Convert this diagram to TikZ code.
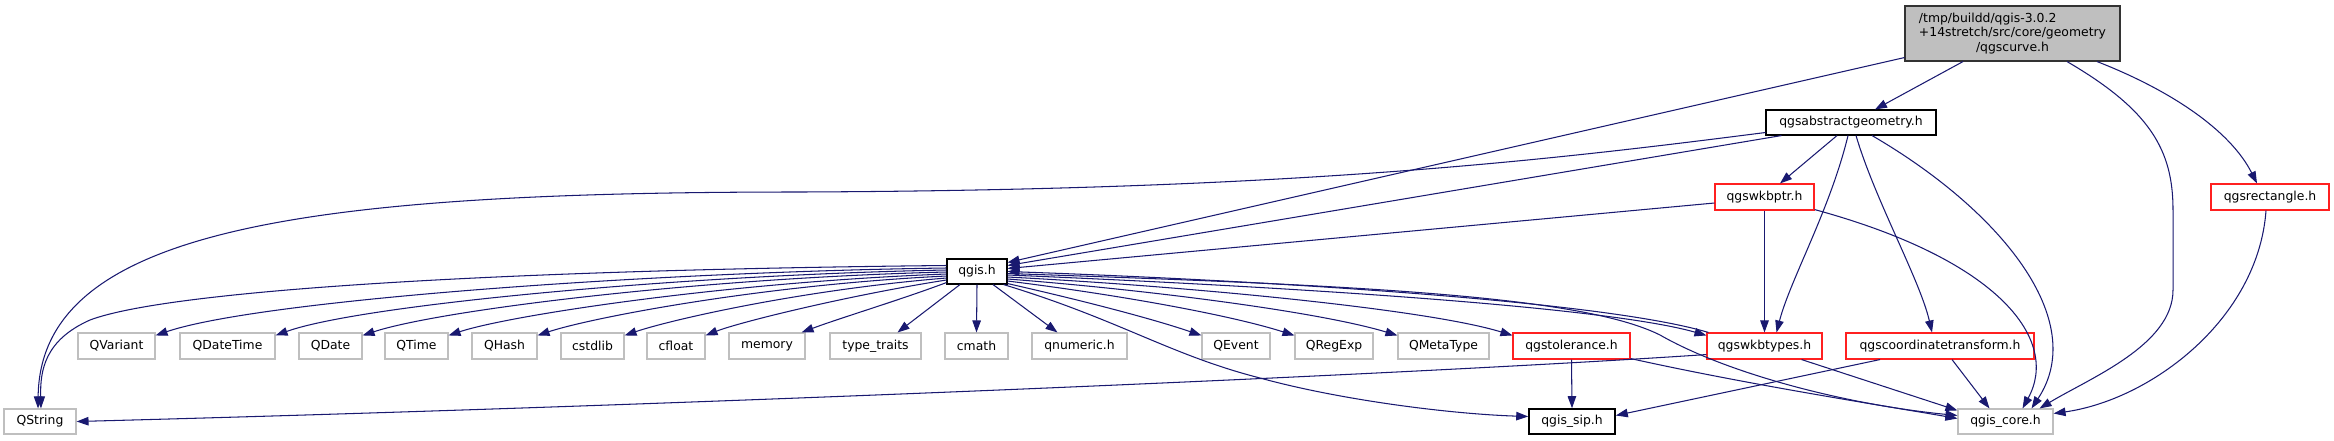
\documentclass[tikz,border=0pt]{standalone}
\usepackage{fontspec}
\setmainfont{DejaVu Sans}
\usetikzlibrary{arrows.meta,calc}
\definecolor{edgec}{HTML}{191970}
\definecolor{nodegray}{HTML}{BFBFBF}
\definecolor{trred}{HTML}{FF2020}
\newlength\lineLen
\tikzset{
 box/.style={rectangle, draw, line width=1.1pt, inner sep=0pt, minimum height=26pt, font=\fontsize{12.4}{14.5}\selectfont, text=black},
 docbox/.style={box, draw=black},
 extbox/.style={box, draw=nodegray},
 trbox/.style={box, draw=trred},
 rootbox/.style={box, draw=black!80, fill=nodegray},
 edge/.style={draw=edgec, line width=1.05pt, -{Triangle[length=12pt,width=8.5pt]}}
}
\begin{document}
\begin{tikzpicture}[x=1pt,y=-1pt]
\useasboundingbox (0,0) rectangle (2334,440);
% nodes
\node[rootbox, minimum width=215pt, minimum height=55pt, align=center] (curve) at (2012.5,33.5)
 {\settowidth{\lineLen}{+14stretch/src/core/geometry}\makebox[\lineLen][l]{/tmp/buildd/qgis-3.0.2}\\+14stretch/src/core/geometry\\/qgscurve.h};
\node[docbox, minimum width=170pt, minimum height=25pt] (absgeom) at (1851,122.5) {qgsabstractgeometry.h};
\node[trbox, minimum width=99pt] (wkbptr) at (1764.5,197) {qgswkbptr.h};
\node[trbox, minimum width=118pt] (rect) at (2270,197) {qgsrectangle.h};
\node[docbox, minimum width=60pt, minimum height=25pt] (qgis) at (977,271.5) {qgis.h};
% row
\node[extbox, minimum width=77pt] (QVariant) at (116.5,346) {QVariant};
\node[extbox, minimum width=95pt] (QDateTime) at (227.5,346) {QDateTime};
\node[extbox, minimum width=63pt] (QDate) at (330.5,346) {QDate};
\node[extbox, minimum width=63pt] (QTime) at (416.5,346) {QTime};
\node[extbox, minimum width=65pt] (QHash) at (504.5,346) {QHash};
\node[extbox, minimum width=63pt] (cstdlib) at (592.5,346) {cstdlib};
\node[extbox, minimum width=58pt] (cfloat) at (676,346) {cfloat};
\node[extbox, minimum width=76pt] (memory) at (767,346) {memory};
\node[extbox, minimum width=91pt] (typetraits) at (875.5,346) {type\_traits};
\node[extbox, minimum width=63pt] (cmath) at (976.5,346) {cmath};
\node[extbox, minimum width=95pt] (qnumeric) at (1079.5,346) {qnumeric.h};
\node[extbox, minimum width=68pt] (QEvent) at (1236,346) {QEvent};
\node[extbox, minimum width=78pt] (QRegExp) at (1334,346) {QRegExp};
\node[extbox, minimum width=91pt] (QMetaType) at (1443.5,346) {QMetaType};
\node[trbox, minimum width=117pt] (qgstol) at (1571.5,346) {qgstolerance.h};
\node[trbox, minimum width=115pt] (wkbtypes) at (1764.5,346) {qgswkbtypes.h};
\node[trbox, minimum width=188pt] (coordtr) at (1940,346) {qgscoordinatetransform.h};
% bottom
\node[extbox, minimum width=72pt, minimum height=25pt] (QString) at (40,421.5) {QString};
\node[docbox, line width=1.6pt, minimum width=86pt, minimum height=25pt] (qgissip) at (1572,421.5) {qgis\_sip.h};
\node[extbox, minimum width=95pt, minimum height=25pt] (qgiscore) at (2005.5,421.5) {qgis\_core.h};

% edges from qgscurve.h
\draw[edge] ($(curve.south west)+(0,-4)$) -- ($(qgis.east)+(0,-9)$);
\draw[edge] ($(curve.south)+(-49.5,0)$) -- ($(absgeom.north)+(24,0)$);
\draw[edge] ($(curve.south)+(84.5,0)$) .. controls (2170,90) and (2230,130) .. ($(rect.north)+(-13,0)$);
\draw[edge] ($(curve.south)+(54.5,0)$) .. controls (2150,110) and (2173,150) .. (2173,210) -- (2173,290)
  .. controls (2173,345) and (2090,378) .. ($(qgiscore.north)+(34,0)$);
% edges from qgsabstractgeometry.h
\draw[edge] ($(absgeom.west)+(0,10)$) .. controls (1550,160) and (1300,190) .. (800,192)
  .. controls (300,192) and (40,230) .. ($(QString.north)+(-2,0)$);
\draw[edge] ($(absgeom.south west)+(16,0)$) -- ($(qgis.east)+(0,-6)$);
\draw[edge] ($(absgeom.south)+(-14,0)$) -- ($(wkbptr.north)+(15.5,0)$);
\draw[edge] ($(absgeom.south)+(-3,0)$) .. controls (1830,210) and (1790,280) .. ($(wkbtypes.north)+(12,0)$);
\draw[edge] ($(absgeom.south)+(5,0)$) .. controls (1875,200) and (1920,280) .. ($(coordtr.north)+(-8,0)$);
\draw[edge] ($(absgeom.south)+(21,0)$) .. controls (2000,210) and (2090,320) .. ($(qgiscore.north)+(26,0)$);
% edges from qgswkbptr.h
\draw[edge] ($(wkbptr.west)+(0,6)$) -- ($(qgis.east)+(0,-3)$);
\draw[edge] (wkbptr.south) -- (wkbtypes.north);
\draw[edge] ($(wkbptr.south east)+(0,-1)$) .. controls (2000,260) and (2060,340) .. ($(qgiscore.north)+(17,0)$);
% qgsrectangle.h
\draw[edge] ($(rect.south)+(-4,0)$) .. controls (2258,320) and (2150,400) .. ($(qgiscore.east)+(0,-8)$);
% edges from qgis.h to the left
\draw[edge] ($(qgis.west)+(0,-6)$) .. controls (500,270) and (170,290) .. (90,320)
  .. controls (45,340) and (40,370) .. ($(QString.north)+(1,0)$);
\draw[edge] ($(qgis.west)+(0,-3.5)$) .. controls (650,272) and (260,300) .. ($(QVariant.north east)+(0,3)$);
\draw[edge] ($(qgis.west)+(0,-1.5)$) .. controls (680,275) and (360,305) .. ($(QDateTime.north east)+(0,3)$);
\draw[edge] ($(qgis.west)+(0,0.5)$) .. controls (700,278) and (440,310) .. ($(QDate.north east)+(0,3)$);
\draw[edge] ($(qgis.west)+(0,2.5)$) .. controls (730,282) and (510,315) .. ($(QTime.north east)+(0,3)$);
\draw[edge] ($(qgis.west)+(0,4.5)$) .. controls (760,285) and (590,318) .. ($(QHash.north east)+(0,3)$);
\draw[edge] ($(qgis.west)+(0,6.5)$) .. controls (800,290) and (670,320) .. ($(cstdlib.north east)+(0,3)$);
\draw[edge] ($(qgis.west)+(0,8.5)$) .. controls (850,295) and (740,322) .. ($(cfloat.north east)+(0,3)$);
\draw[edge] ($(qgis.south west)+(0,-2)$) .. controls (900,300) and (840,318) .. ($(memory.north east)+(-4,0)$);
\draw[edge] ($(qgis.south)+(-17,0)$) -- ($(typetraits.north)+(22,0)$);
\draw[edge] (qgis.south) -- (cmath.north);
\draw[edge] ($(qgis.south)+(16,0)$) -- ($(qnumeric.north)+(-22,0)$);
% edges from qgis.h to the right
\draw[edge] ($(qgis.south east)+(0,-1)$) .. controls (1080,300) and (1150,318) .. ($(QEvent.north west)+(0,3)$);
\draw[edge] ($(qgis.east)+(0,9.5)$) .. controls (1120,295) and (1230,315) .. ($(QRegExp.north west)+(0,3)$);
\draw[edge] ($(qgis.east)+(0,7.5)$) .. controls (1150,290) and (1320,312) .. ($(QMetaType.north west)+(0,3)$);
\draw[edge] ($(qgis.east)+(0,5.5)$) .. controls (1200,287) and (1430,310) .. ($(qgstol.north west)+(0,3)$);
\draw[edge] ($(qgis.east)+(0,3.5)$) .. controls (1250,285) and (1600,305) .. ($(wkbtypes.north west)+(0,3)$);
\draw[edge] ($(wkbtypes.north west)+(2,0)$) .. controls (1600,300) and (1250,280) .. (qgis.east);
\draw[edge] ($(qgis.east)+(0,2)$) .. controls (1350,285) and (1580,295) .. (1660,335)
  .. controls (1730,375) and (1850,405) .. ($(qgiscore.west)+(0,-6)$);
\draw[edge] ($(qgis.south east)+(-4,0)$) .. controls (1120,320) and (1170,355) .. (1260,378)
  .. controls (1340,400) and (1450,414) .. ($(qgissip.west)+(0,-5)$);
% qgstolerance.h
\draw[edge] (qgstol.south) -- (qgissip.north);
\draw[edge] ($(qgstol.south east)+(0,-1)$) .. controls (1750,385) and (1880,405) .. ($(qgiscore.west)+(0,-3)$);
% qgswkbtypes.h
\draw[edge] ($(wkbtypes.south west)+(0,-5)$) .. controls (1400,375) and (700,405) .. (QString.east);
\draw[edge] ($(wkbtypes.south east)+(-21,0)$) -- ($(qgiscore.north west)+(0,2)$);
% qgscoordinatetransform.h
\draw[edge] ($(coordtr.south)+(-60,0)$) -- ($(qgissip.east)+(0,-6)$);
\draw[edge] ($(coordtr.south)+(12,0)$) -- ($(qgiscore.north)+(-16,0)$);
\end{tikzpicture}
\end{document}
